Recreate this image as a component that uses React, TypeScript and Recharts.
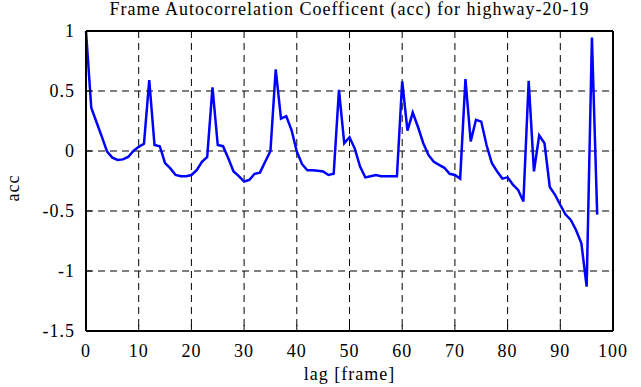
import { LineChart, Line, XAxis, YAxis, CartesianGrid, Label } from "recharts";

const lags = [
  0, 1, 2, 3, 4, 5, 6, 7, 8, 9, 10, 11, 12, 13, 14, 15, 16, 17, 18, 19, 20, 21, 22, 23, 24,
  25, 26, 27, 28, 29, 30, 31, 32, 33, 34, 35, 36, 37, 38, 39, 40, 41, 42, 43, 44, 45, 46, 47,
  48, 49, 50, 51, 52, 53, 54, 55, 56, 57, 58, 59, 60, 61, 62, 63, 64, 65, 66, 67, 68, 69, 70,
  71, 72, 73, 74, 75, 76, 77, 78, 79, 80, 81, 82, 83, 84, 85, 86, 87, 88, 89, 90, 91, 92, 93,
  94, 95, 96, 97,
];

const acc = [
  1.0, 0.36, 0.24, 0.12, -0.005, -0.055, -0.075, -0.07, -0.05, 0.0, 0.035, 0.06, 0.59, 0.05,
  0.04, -0.1, -0.145, -0.2, -0.21, -0.21, -0.2, -0.16, -0.09, -0.05, 0.53, 0.05, 0.04, -0.06,
  -0.17, -0.21, -0.255, -0.24, -0.19, -0.18, -0.09, 0.0, 0.68, 0.27, 0.29, 0.175, -0.005,
  -0.11, -0.16, -0.16, -0.165, -0.17, -0.2, -0.19, 0.51, 0.065, 0.115, 0.02, -0.13, -0.22,
  -0.21, -0.2, -0.21, -0.21, -0.21, -0.21, 0.58, 0.17, 0.32, 0.2, 0.065, -0.035, -0.09,
  -0.115, -0.14, -0.19, -0.2, -0.23, 0.6, 0.08, 0.26, 0.245, 0.05, -0.1, -0.17, -0.23, -0.22,
  -0.28, -0.325, -0.42, 0.585, -0.17, 0.13, 0.065, -0.3, -0.365, -0.45, -0.53, -0.575, -0.66,
  -0.77, -1.13, 0.945, -0.53,
];

const xTicks = [0, 10, 20, 30, 40, 50, 60, 70, 80, 90, 100];
const yTicks = [-1.5, -1, -0.5, 0, 0.5, 1];

const data = lags.map((lag, i) => ({ lag, acc: acc[i] }));

const FONT = "Liberation Serif";
const frame = { stroke: "#000", strokeWidth: 2 };
const tickLn = { stroke: "#000", strokeWidth: 1 };

function SerifText(props: any) {
  const { children, ...rest } = props;
  return (
    <text fontFamily={FONT} fontSize={18} letterSpacing={1} fill="#000" {...rest}>
      {children}
    </text>
  );
}

// bottom tick labels: number centred under the tick
const XTick = ({ x, y, payload }: any) => (
  <SerifText x={x} y={y + 13} textAnchor="middle">
    {payload.value}
  </SerifText>
);

// left tick labels: right aligned, vertically centred
const YTick = ({ x, y, payload }: any) => (
  <SerifText x={x} y={y + 6} textAnchor="end">
    {payload.value}
  </SerifText>
);

export default function App() {
  return (
    <div style={{ position: "absolute", left: 0, top: 0, width: 641, height: 387, background: "#fff" }}>
      <LineChart
        width={641}
        height={387}
        data={data}
        margin={{ top: 30, right: 27, bottom: 6, left: 26 }}
      >
        <CartesianGrid stroke="#000" strokeWidth={1} strokeDasharray="7 5" xAxisId="b" yAxisId="l" />
        <XAxis
          xAxisId="b"
          dataKey="lag"
          type="number"
          domain={[0, 100]}
          ticks={xTicks}
          height={50}
          axisLine={frame}
          tickLine={tickLn}
          tickSize={-6}
          tickMargin={19}
          tick={XTick}
        >
          <Label
            content={({ viewBox }: any) => (
              <SerifText x={viewBox.x + viewBox.width / 2} y={viewBox.y + 49} textAnchor="middle">
                lag [frame]
              </SerifText>
            )}
          />
        </XAxis>
        <XAxis
          xAxisId="t"
          orientation="top"
          type="number"
          domain={[0, 100]}
          ticks={xTicks}
          height={1}
          axisLine={frame}
          tickLine={tickLn}
          tickSize={-6}
          tick={false}
        >
          <Label
            content={({ viewBox }: any) => (
              <SerifText x={viewBox.x + viewBox.width / 2} y={15} textAnchor="middle">
                Frame Autocorrelation Coefficent (acc) for highway-20-19
              </SerifText>
            )}
          />
        </XAxis>
        <YAxis
          yAxisId="l"
          type="number"
          domain={[-1.5, 1]}
          ticks={yTicks}
          width={60}
          axisLine={frame}
          tickLine={tickLn}
          tickSize={-6}
          tickMargin={17}
          tick={YTick}
          allowDataOverflow
        >
          <Label
            content={() => (
              <SerifText x={19} y={188} transform="rotate(-90, 19, 188)" textAnchor="middle">
                acc
              </SerifText>
            )}
          />
        </YAxis>
        <YAxis
          yAxisId="r"
          orientation="right"
          type="number"
          domain={[-1.5, 1]}
          ticks={yTicks}
          width={1}
          axisLine={frame}
          tickLine={tickLn}
          tickSize={-6}
          tick={false}
        />
        <Line
          xAxisId="b"
          yAxisId="l"
          type="linear"
          dataKey="acc"
          stroke="#0000ff"
          strokeWidth={2.5}
          dot={false}
          isAnimationActive={false}
        />
      </LineChart>
    </div>
  );
}
